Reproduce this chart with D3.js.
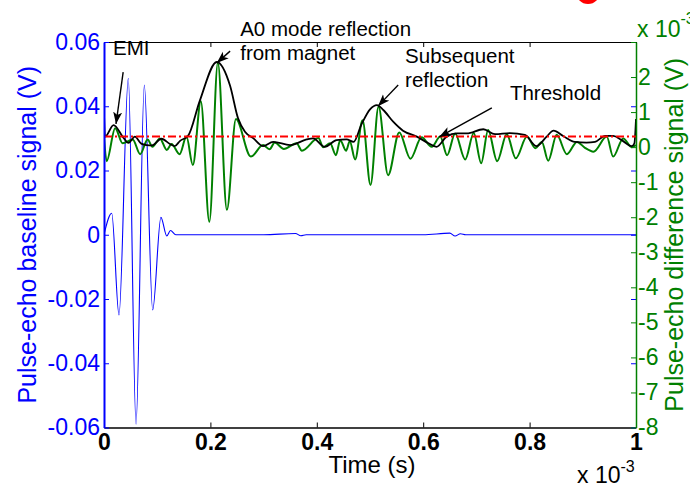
<!DOCTYPE html>
<html>
<head>
<meta charset="utf-8">
<script src="https://cdn.jsdelivr.net/npm/d3@7"></script>
<style>
body { margin: 0; background: #fff; }
svg { display: block; font-family: "Liberation Sans", Arial, sans-serif; }
</style>
</head>
<body>
<div id="chart"></div>
<script>
// time in units of 1e-3 s, difference signal in units of 1e-3 V

// baseline signal (left axis, V)
var baseTime = [0, 0.0145, 0.0282, 0.0457, 0.0602, 0.0758, 0.0915, 0.107, 0.118, 0.125, 0.135,
    0.30, 0.36, 0.37, 0.38, 0.60, 0.65, 0.66, 0.67, 0.68, 1.0];
var baseVolt = [0, 0.0067, -0.025, 0.0487, -0.059, 0.0466, -0.0234, 0.0054, -0.0004, 0.0013, 0,
    0, 0.0004, -0.0003, 0, 0, 0.0005, -0.0004, 0.0003, 0, 0];

// difference signal (right axis)
var diffTime = [0.000, 0.005, 0.021, 0.035, 0.054, 0.068, 0.082, 0.091, 0.105, 0.118, 0.127, 0.142,
    0.155, 0.167, 0.182, 0.198, 0.214, 0.231, 0.248, 0.276, 0.299, 0.311, 0.321, 0.338, 0.362, 0.372,
    0.403, 0.412, 0.425, 0.436, 0.444, 0.455, 0.462, 0.472, 0.486, 0.501, 0.516, 0.534, 0.555, 0.576,
    0.597, 0.616, 0.632, 0.645, 0.660, 0.679, 0.695, 0.709, 0.722, 0.739, 0.757, 0.774, 0.795, 0.811,
    0.823, 0.835, 0.851, 0.870, 0.889, 0.904, 0.920, 0.945, 0.957, 0.976, 0.992, 1.000];
var diffVolt = [0.30, -0.40, 0.54, 0.11, 0.22, -0.20, 0.22, 0.01, 0.25, -0.08, 0.09, -0.20,
    0.30, -0.51, 1.31, -2.13, 2.41, -1.79, 0.80, -0.27, 0.06, -0.06, 0.13, -0.05, 0.11, -0.10,
    0.26, 0.00, 0.11, -0.23, 0.20, -0.10, 0.17, -0.35, 0.77, -1.08, 1.15, -0.80, 0.42, -0.33,
    0.28, 0.01, 0.30, -0.23, 0.39, -0.35, 0.40, -0.46, 0.49, -0.40, 0.37, -0.32, 0.30, -0.03,
    0.15, -0.39, 0.35, -0.20, 0.15, -0.02, -0.13, 0.30, -0.27, 0.25, 0.00, 0.06];

// envelope of the difference signal (right axis)
var envTime = [0.000, 0.002, 0.018, 0.036, 0.046, 0.058, 0.070, 0.080, 0.090, 0.108, 0.124, 0.133,
    0.143, 0.158, 0.180, 0.212, 0.237, 0.252, 0.265, 0.281, 0.299, 0.318, 0.350, 0.381, 0.393, 0.415,
    0.437, 0.456, 0.469, 0.484, 0.500, 0.513, 0.525, 0.544, 0.562, 0.588, 0.610, 0.625, 0.644, 0.663,
    0.682, 0.713, 0.735, 0.763, 0.791, 0.813, 0.832, 0.845, 0.863, 0.885, 0.907, 0.923, 0.942, 0.957,
    0.973, 0.992, 0.997, 1.000];
var envVolt = [0.96, 0.30, 0.63, 0.28, 0.12, 0.30, 0.10, 0.06, 0.05, 0.24, 0.09, 0.03,
    0.18, 0.32, 1.32, 2.43, 1.75, 0.82, 0.44, 0.25, 0.03, 0.15, 0.06, 0.22, 0.25, 0.01,
    0.20, 0.22, 0.15, 0.65, 1.08, 1.20, 1.06, 0.72, 0.47, 0.30, 0.11, 0.01, 0.30, 0.39,
    0.39, 0.51, 0.37, 0.40, 0.35, 0.03, 0.30, 0.47, 0.32, 0.15, 0.13, 0.15, 0.32, 0.32,
    0.20, 0.03, 0.11, 0.80];

var threshold = 0.3;

var timeTicks = [0, 0.2, 0.4, 0.6, 0.8, 1];
var leftTicks = [-0.06, -0.04, -0.02, 0, 0.02, 0.04, 0.06];
var rightTicks = [-8, -7, -6, -5, -4, -3, -2, -1, 0, 1, 2, 3];

// annotations: text anchor and arrow tail/tip, in (time, right axis) units
var notes = [
    {lines: ["EMI"], t: 0.017, v: 2.63, from: [0.036, 2.14], to: [0.0226, 0.66]},
    {lines: ["A0 mode reflection", "from magnet"], t: 0.256, v: 3.17, from: [0.237, 2.74], to: [0.212, 2.40]},
    {lines: ["Subsequent", "reflection"], t: 0.566, v: 2.40, from: [0.553, 1.77], to: [0.515, 1.17]},
    {lines: ["Threshold"], t: 0.763, v: 1.34, from: [0.729, 1.12], to: [0.630, 0.29]}
];

var W = 690, H = 486;
var margin = {top: 42, right: 54, bottom: 58.5, left: 104},
    width = W - margin.left - margin.right,
    height = H - margin.top - margin.bottom;

var blue = "#0000ff", green = "#008000";

var svg = d3.select("#chart").append("svg")
    .attr("width", W).attr("height", H);

svg.append("defs").append("clipPath").attr("id", "plotclip")
    .append("rect").attr("width", width).attr("height", height);

svg.select("defs").append("marker")
    .attr("id", "arrow")
    .attr("markerUnits", "userSpaceOnUse")
    .attr("markerWidth", 14).attr("markerHeight", 10)
    .attr("viewBox", "0 -5 14 10")
    .attr("refX", 12).attr("refY", 0)
    .attr("orient", "auto")
    .append("path")
    .attr("d", "M0,-4.5L12,0L0,4.5L3,0Z")
    .attr("fill", "black");

var g = svg.append("g")
    .attr("transform", "translate(" + margin.left + "," + margin.top + ")");

var x = d3.scaleLinear().domain([0, 1]).range([0, width]);
var yL = d3.scaleLinear().domain([-0.06, 0.06]).range([height, 0]);
var yR = d3.scaleLinear().domain([-8, 3]).range([height, 0]);

var plot = g.append("g").attr("clip-path", "url(#plotclip)");

var lineL = d3.line().x(d => x(d[0])).y(d => yL(d[1])).curve(d3.curveMonotoneX);
var lineR = d3.line().x(d => x(d[0])).y(d => yR(d[1])).curve(d3.curveMonotoneX);

plot.append("path")
    .datum(d3.zip(baseTime, baseVolt))
    .attr("d", lineL)
    .attr("fill", "none").attr("stroke", blue).attr("stroke-width", 1.1);

plot.append("path")
    .datum(d3.zip(diffTime, diffVolt))
    .attr("d", lineR)
    .attr("fill", "none").attr("stroke", green).attr("stroke-width", 2);

plot.append("path")
    .datum(d3.zip(envTime, envVolt))
    .attr("d", lineR)
    .attr("fill", "none").attr("stroke", "black").attr("stroke-width", 1.8);

plot.append("line")
    .attr("x1", x(0)).attr("x2", x(1))
    .attr("y1", yR(threshold)).attr("y2", yR(threshold))
    .attr("stroke", "#ff0000").attr("stroke-width", 2)
    .attr("stroke-dasharray", "8,3,2,3");

// axes
function styleAxis(sel, color, size, weight) {
    sel.attr("font-family", null).attr("font-size", size);
    sel.selectAll("text").attr("fill", color).attr("font-weight", weight || "normal");
    sel.selectAll("line").attr("stroke", color);
}

var ax = g.append("g").attr("transform", "translate(0," + height + ")")
    .call(d3.axisBottom(x).tickValues(timeTicks).tickSize(-5).tickSizeOuter(0)
        .tickPadding(6).tickFormat(d => String(d)));
styleAxis(ax, "black", 23, "bold");
ax.select(".domain").attr("stroke", "black").attr("stroke-width", 1.6);

var axTop = g.append("g")
    .call(d3.axisTop(x).tickValues(timeTicks).tickSize(-5).tickSizeOuter(0).tickFormat(""));
styleAxis(axTop, "black", 23);
axTop.select(".domain").attr("stroke", "black").attr("stroke-width", 1);

var ayL = g.append("g")
    .call(d3.axisLeft(yL).tickValues(leftTicks).tickSize(-5).tickSizeOuter(0)
        .tickPadding(4).tickFormat(d => d === 0 ? "0" : d.toFixed(2)));
styleAxis(ayL, blue, 23);
ayL.select(".domain").attr("stroke", blue).attr("stroke-width", 2);

var ayLm = g.append("g").attr("transform", "translate(" + width + ",0)")
    .call(d3.axisRight(yL).tickValues(leftTicks).tickSize(-5).tickSizeOuter(0).tickFormat(""));
styleAxis(ayLm, blue, 23);
ayLm.select(".domain").remove();

var ayR = g.append("g").attr("transform", "translate(" + width + ",0)")
    .call(d3.axisRight(yR).tickValues(rightTicks).tickSize(-5).tickSizeOuter(0)
        .tickPadding(2).tickFormat(d => d === 3 ? "" : String(d)));
styleAxis(ayR, green, 23);
ayR.select(".domain").attr("stroke", green).attr("stroke-width", 1.5);

// axis titles
g.append("text")
    .attr("x", width / 2 + 2).attr("y", height + 45)
    .attr("text-anchor", "middle").attr("font-size", 24)
    .text("Time (s)");

g.append("text")
    .attr("transform", "translate(" + (36 - margin.left) + "," + (height / 2) + ") rotate(-90)")
    .attr("text-anchor", "middle").attr("font-size", 25).attr("fill", blue)
    .text("Pulse-echo baseline signal (V)");

g.append("text")
    .attr("transform", "translate(" + (width + 47) + "," + (height / 2) + ") rotate(-90)")
    .attr("text-anchor", "middle").attr("font-size", 25).attr("fill", green)
    .text("Pulse-echo difference signal (V)");

// exponent labels
var ex = g.append("text").attr("x", width - 59).attr("y", height + 55).attr("font-size", 23);
ex.append("tspan").text("x 10");
ex.append("tspan").attr("dy", -11).attr("font-size", 16).text("-3");

var exR = g.append("text").attr("x", width + 1).attr("y", -5).attr("font-size", 23).attr("fill", green);
exR.append("tspan").text("x 10");
exR.append("tspan").attr("dy", -13).attr("font-size", 16).text("-3");

// annotations
notes.forEach(function (n) {
    g.append("line")
        .attr("x1", x(n.from[0])).attr("y1", yR(n.from[1]))
        .attr("x2", x(n.to[0])).attr("y2", yR(n.to[1]))
        .attr("stroke", "black").attr("stroke-width", 1.4)
        .attr("marker-end", "url(#arrow)");
    var t = g.append("text").attr("font-size", 20.5).attr("fill", "black");
    n.lines.forEach(function (s, i) {
        t.append("tspan").attr("x", x(n.t)).attr("y", yR(n.v) + i * 23.5).text(s);
    });
});

// clipped red mark at the top edge
svg.append("circle").attr("cx", 588).attr("cy", -8).attr("r", 12).attr("fill", "#ff0000");
</script>
</body>
</html>
